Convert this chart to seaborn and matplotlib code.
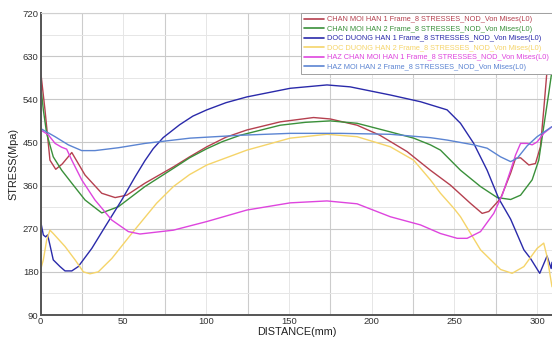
import numpy as np
import pandas as pd
import matplotlib
matplotlib.use("Agg")
import matplotlib.pyplot as plt
from matplotlib.lines import Line2D
import seaborn as sns

# Von Mises stress along the weld line, one series per path
red_x = [0, 2.6, 5.6, 9.1, 13, 18.8, 26.8, 36.9, 45, 52, 63, 80.2, 90, 100.4, 112, 124.6,
         144.8, 164.9, 175, 191.2, 205, 221.4, 235.5, 247.6, 259.7, 266.8, 270.8, 277.9,
         284, 287, 290, 295, 299, 302, 304, 306, 307.5, 309]
red_y = [598, 518, 413, 394, 405, 429, 382, 344, 335, 340, 365, 399, 420, 441, 461, 476,
         493, 502, 499, 486, 465, 431, 392, 361, 323, 302, 306, 333,
         386, 417, 418, 403, 406, 441, 518, 600, 670, 715]

green_x = [0, 1.6, 3.6, 7.6, 12.7, 18.8, 26.8, 36.9, 47, 63, 80.2, 90, 100.4, 110, 120.6,
           144.8, 160, 175, 191.2, 211.3, 225.4, 235.5, 241.6, 253.7, 265.8, 275.9, 284,
           290, 297, 301, 304, 307, 309]
green_y = [570, 518, 469, 420, 392, 365, 330, 303, 316, 358, 396, 418, 437, 452, 465,
           486, 492, 495, 490, 472, 459, 445, 434, 392, 358, 335, 331,
           340, 372, 413, 483, 552, 600]

blue_x = [0, 1.6, 3, 4.2, 5.6, 7.6, 11.7, 14.7, 18.8, 22.7, 30.9, 38.9, 49, 57, 63, 68,
          74, 84, 92, 100.4, 112, 124.6, 150.8, 173, 187, 211.3, 229.5, 245.6, 253.7,
          261.7, 269.8, 276.8, 284, 292, 296, 301.6, 306, 308.5, 309]
blue_y = [285, 257, 253, 257, 236, 205, 191, 182, 182, 191, 229, 274, 330, 378, 412, 437,
          460, 487, 505, 518, 533, 545, 563, 570, 566, 549, 535, 518, 490,
          448, 392, 333, 290, 226, 208, 177, 213, 187, 200]

yellow_x = [0, 1.6, 3.6, 5.6, 7.6, 14.7, 20.8, 25.8, 29.8, 34.8, 43, 55, 60, 70, 80.2,
            90, 100.4, 124.6, 150.8, 173, 191.2, 211.3, 225.4, 235.5, 241.6, 249.6,
            253.7, 265.8, 277.9, 284.9, 292, 300, 304, 306, 309]
yellow_y = [185, 205, 246, 267, 260, 233, 205, 180, 176, 180, 208, 260, 281, 323, 358,
            383, 403, 434, 459, 467, 462, 441, 413, 372, 344, 313,
            295, 226, 185, 177, 191, 229, 240, 212, 149]

magenta_x = [0, 4.6, 8.7, 12.7, 15.7, 18.8, 24.8, 32.8, 43, 53, 60, 80.2, 100.4, 124.6,
             150.8, 173, 191.2, 211.3, 229.5, 241.6, 251.7, 257.7, 265.8, 273.8, 278.9,
             284, 287, 290, 294, 297, 300, 304, 309]
magenta_y = [476, 466, 448, 440, 436, 413, 372, 330, 288, 264, 259, 267, 285, 309,
             324, 328, 322, 295, 278, 260, 250, 250, 264, 302, 340,
             392, 424, 448, 448, 445, 451, 469, 483]

lblue_x = [0, 8.7, 16.7, 24.8, 32.8, 47, 63, 90.3, 120.6, 150.8, 181, 211.3, 235.5,
           245.6, 261.7, 269.8, 277.9, 284, 288, 294, 300, 309]
lblue_y = [479, 462, 445, 433, 433, 439, 448, 459, 465, 469, 469, 467, 460,
           455, 445, 438, 420, 410, 417, 443, 462, 483]

series_names = [
    "CHAN MOI HAN 1 Frame_8 STRESSES_NOD_Von Mises(L0)",
    "CHAN MOI HAN 2 Frame_8 STRESSES_NOD_Von Mises(L0)",
    "DOC DUONG HAN 1 Frame_8 STRESSES_NOD_Von Mises(L0)",
    "DOC DUONG HAN 2 Frame_8 STRESSES_NOD_Von Mises(L0)",
    "HAZ CHAN MOI HAN 1 Frame_8 STRESSES_NOD_Von Mises(L0)",
    "HAZ MOI HAN 2 Frame_8 STRESSES_NOD_Von Mises(L0)",
]
series_colors = ["#b5404f", "#3a903a", "#2a2aaa", "#f5d469", "#de45de", "#5b84d2"]

x_ticks = [0, 50, 100, 150, 200, 250, 300]
y_ticks = [90, 180, 270, 360, 450, 540, 630, 720]

xs = [red_x, green_x, blue_x, yellow_x, magenta_x, lblue_x]
ys = [red_y, green_y, blue_y, yellow_y, magenta_y, lblue_y]
frames = [pd.DataFrame({"DISTANCE": x, "STRESS": y, "series": n})
          for x, y, n in zip(xs, ys, series_names)]
df = pd.concat(frames, ignore_index=True)

sns.set_theme(style="white")
plt.rcParams["font.family"] = ["Liberation Sans", "DejaVu Sans"]

fig = plt.figure(figsize=(5.52, 3.43), dpi=100)
ax = fig.add_axes([0.0737, 0.0816, 0.9263, 0.8804])

sns.lineplot(data=df, x="DISTANCE", y="STRESS", hue="series", hue_order=series_names,
             palette=series_colors, estimator=None, sort=False, linewidth=1.0,
             legend=False, ax=ax)

ax.set_xlim(0, 309)
ax.set_ylim(90, 720)
ax.set_xticks(x_ticks)
ax.set_yticks(y_ticks)
ax.set_xticks(np.arange(25, 309, 50), minor=True)
ax.set_yticks(np.arange(135, 720, 90), minor=True)
ax.grid(True, which="major", axis="y", color="#c8c8c8", linewidth=0.8)
ax.grid(True, which="minor", axis="y", color="#e6e6e6", linewidth=0.7)
ax.grid(True, which="minor", axis="x", color="#cccccc", linewidth=0.8)
ax.grid(True, which="major", axis="x", color="#e6e6e6", linewidth=0.7)
ax.set_axisbelow(True)

ax.tick_params(axis="both", which="major", labelsize=6.8, colors="#333333",
               length=2, direction="in", pad=1.5)
ax.tick_params(axis="both", which="minor", length=0)
for s in ("left", "bottom"):
    ax.spines[s].set_color("#555555")
    ax.spines[s].set_linewidth(1.4)
ax.spines["top"].set_color("#d0d0d0")
ax.spines["top"].set_linewidth(0.8)
ax.spines["right"].set_visible(False)

ax.set_xlabel("DISTANCE(mm)", fontsize=7.8, color="#222222", labelpad=1)
ax.set_ylabel("STRESS(Mpa)", fontsize=7.8, color="#222222", labelpad=3)

handles = [Line2D([], [], color=c, linewidth=1.2) for c in series_colors]
leg = ax.legend(handles, series_names, loc="upper right", fontsize=5.3,
                frameon=True, fancybox=False, edgecolor="#a0a0a0", framealpha=1,
                handlelength=2.6, handletextpad=0.5, labelspacing=0.33,
                borderpad=0.4, borderaxespad=0.0)
leg.get_frame().set_linewidth(0.7)
for t, c in zip(leg.get_texts(), series_colors):
    t.set_color(c)

fig.savefig("out.png", dpi=100)
